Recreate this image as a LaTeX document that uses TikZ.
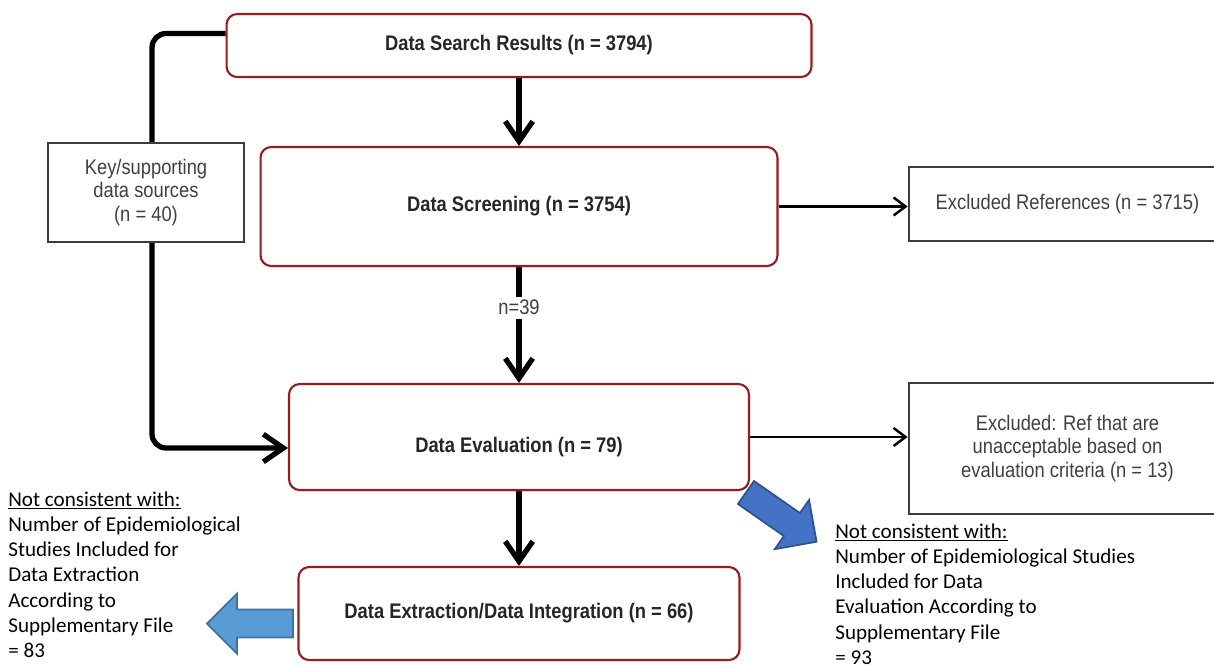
\documentclass[tikz,border=0pt]{standalone}
\usepackage{fontspec}
\usepackage{tikz}
\usetikzlibrary{arrows.meta,positioning,calc}
\newfontfamily\boxfont[FakeStretch=0.87]{Liberation Sans}
\newfontfamily\notefont{Carlito}
\definecolor{boxred}{RGB}{150,28,32}
\definecolor{boxgray}{RGB}{60,60,60}
\definecolor{ptrblue}{RGB}{68,114,196}
\definecolor{ptrblueedge}{RGB}{47,82,143}
\definecolor{ptrlight}{RGB}{91,155,213}
\definecolor{ptrlightedge}{RGB}{65,113,156}

\begin{document}
\begin{tikzpicture}[x=0.02cm, y=-0.02cm,
	stage/.style={draw=boxred, line width=1.2pt, rounded corners=6pt, fill=white, text=black!85, font=\boxfont\bfseries\fontsize{12}{13.5}\selectfont},
	side/.style={draw=boxgray, line width=1.6pt, fill=white, align=center, text=black!75, font=\boxfont\fontsize{12}{13.5}\selectfont},
	flow/.style={line width=3pt, -{Straight Barb[length=4mm,width=5.5mm]}},
	exitline/.style={line width=1.4pt, -{Straight Barb[length=2.4mm,width=3.6mm]}},
	note/.style={anchor=north west, inner sep=0pt, align=left, font=\notefont\fontsize{12}{14.4}\selectfont},
	blockarrow/.pic={\path[pic actions] (0,-14) -- (56,-14) -- (56,-30) -- (86,0) -- (56,30) -- (56,14) -- (0,14) -- cycle;}]
	\clip (0,0) rectangle (1214,664);
	\fill[white] (0,0) rectangle (1214,664);
	
	% main stages
	\node[stage, minimum width=11.7cm, minimum height=1.26cm] (search) at (519,45.5) {Data Search Results (n = 3794)};
	\node[stage, minimum width=10.34cm, minimum height=2.38cm] (screen) at (519,206.5) {Data Screening (n = 3754)};
	\node[stage, minimum width=9.2cm, minimum height=2.12cm, text height=20pt, text depth=2.5pt] (eval) at (519,437) {Data Evaluation (n = 79)};
	\node[stage, minimum width=8.82cm, minimum height=1.86cm] (extract) at (519,613.5) {Data Extraction/Data Integration (n = 66)};
	
	% key sources lane, behind the side box
	\coordinate (lane) at (152,0);
	\coordinate (laneout) at ([yshift=0.24cm]search.west);
	\coordinate (lanein) at ([yshift=-0.22cm]eval.west);
	\draw[flow, rounded corners=8pt] (laneout) -| (lane |- lanein) -- (lanein);
	\node[side, minimum width=3.92cm, minimum height=1.98cm] (key) at (146,192.5) {Key/supporting\\data sources\\(n = 40)};
	
	% excluded
	\node[side, minimum width=6.34cm, minimum height=1.48cm] (exref) at (1067.5,204) {Excluded References (n = 3715)};
	\node[side, minimum width=6.34cm, minimum height=2.62cm] (exeval) at (1067.5,448.5) {Excluded: Ref that are\\unacceptable based on\\evaluation criteria (n = 13)};
	
	\draw[flow] (search) -- (screen);
	\draw[flow] (screen) -- node[pos=0.35, fill=white, inner sep=2pt, text=black!75, font=\boxfont\fontsize{12}{13.5}\selectfont] (nscreen) {n=39} (eval);
	\draw[flow] (eval) -- (extract);
	\draw[exitline] (screen.east) -- (screen.east -| exref.west);
	\draw[exitline] (eval.east) -- (eval.east -| exeval.west);
	
	% remarks
	\pic[draw=ptrblueedge, fill=ptrblue, line width=1pt, rotate=-34.9] (diagptr) at (746,492.5) {blockarrow};
	\pic[draw=ptrlightedge, fill=ptrlight, line width=1pt, rotate=180] (leftptr) at (293,623.5) {blockarrow};
	\node[note] (leftnote) at (8,491) {\underline{Not consistent with:}\\Number of Epidemiological\\Studies Included for\\Data Extraction\\According to\\Supplementary File\\= 83};
	\node[note] (rightnote) at (835,523) {\underline{Not consistent with:}\\Number of Epidemiological Studies\\Included for Data\\Evaluation According to\\Supplementary File\\= 93};
\end{tikzpicture}
\end{document}
